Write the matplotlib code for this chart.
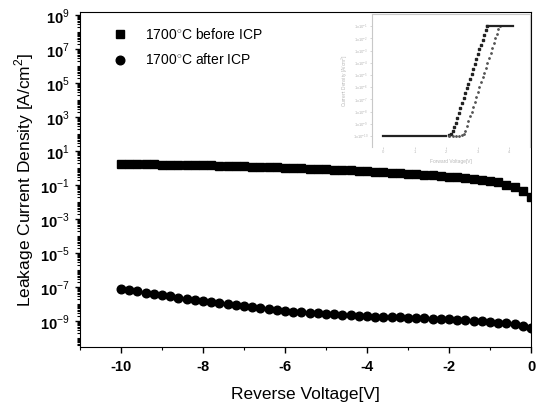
import numpy as np
import matplotlib
matplotlib.use("Agg")
import matplotlib.pyplot as plt
from matplotlib.ticker import FixedLocator, LogLocator, MultipleLocator, FuncFormatter, NullFormatter

plt.rcParams['font.family'] = ['Liberation Sans', 'DejaVu Sans']
plt.rcParams['mathtext.fontset'] = 'custom'
plt.rcParams['mathtext.rm'] = 'Liberation Sans'
plt.rcParams['mathtext.bf'] = 'Liberation Sans:bold'
plt.rcParams['axes.unicode_minus'] = False

# reverse sweep, 0.2 V steps
voltage = np.linspace(-10, 0, 51)

# log10 of leakage current density [A/cm^2]
log_j_before = [0.27, 0.26, 0.26, 0.25, 0.24, 0.23, 0.23, 0.22, 0.21, 0.20,
                0.19, 0.18, 0.17, 0.15, 0.14, 0.12, 0.11, 0.09, 0.08, 0.06,
                0.04, 0.02, 0.00, -0.02, -0.04, -0.06, -0.08, -0.10, -0.12, -0.15,
                -0.17, -0.20, -0.22, -0.25, -0.27, -0.30, -0.33, -0.37, -0.40, -0.44,
                -0.48, -0.52, -0.57, -0.62, -0.67, -0.72, -0.82, -0.95, -1.12, -1.35,
                -1.65]
log_j_after = [-7.06, -7.14, -7.22, -7.30, -7.38, -7.45, -7.52, -7.59, -7.67, -7.74,
               -7.81, -7.87, -7.93, -7.99, -8.04, -8.10, -8.16, -8.22, -8.28, -8.34,
               -8.40, -8.43, -8.46, -8.49, -8.52, -8.55, -8.58, -8.61, -8.64, -8.66,
               -8.69, -8.71, -8.73, -8.75, -8.76, -8.78, -8.80, -8.82, -8.84, -8.86,
               -8.88, -8.91, -8.93, -8.96, -8.99, -9.02, -9.06, -9.10, -9.16, -9.24,
               -9.37]

labels = ['1700$^{\\circ}$C before ICP', '1700$^{\\circ}$C after ICP']

# inset: forward I-V (faint, reproduced from the figure)
inset_floor_v = [0.0, 0.1, 0.2, 0.3, 0.4, 0.5, 0.6, 0.7, 0.8, 0.9, 1.0,
                 1.1, 1.2, 1.3, 1.4, 1.5, 1.6, 1.7, 1.8, 1.9, 2.0]
inset_floor_log = [-10.0] * len(inset_floor_v)
inset_a_v = [2.10, 2.15, 2.20, 2.25, 2.30, 2.35, 2.40, 2.45, 2.50, 2.55, 2.60, 2.65,
             2.70, 2.75, 2.80, 2.85, 2.90, 2.95, 3.00, 3.05, 3.10, 3.15, 3.20, 3.25, 3.30]
inset_a_log = [-9.95, -9.8, -9.55, -9.25, -8.9, -8.5, -8.1, -7.7, -7.3, -6.9, -6.5, -6.1,
               -5.7, -5.3, -4.9, -4.5, -4.1, -3.7, -3.3, -2.9, -2.5, -2.1, -1.7, -1.3, -1.0]
inset_b_v = [2.10, 2.20, 2.30, 2.40, 2.50, 2.55, 2.60, 2.65, 2.70, 2.75, 2.80, 2.85, 2.90,
             2.95, 3.00, 3.05, 3.10, 3.15, 3.20, 3.25, 3.30, 3.35, 3.40, 3.45,
             3.50, 3.55, 3.60, 3.65, 3.70]
inset_b_log = [-10.0, -10.0, -10.0, -10.0, -9.95, -9.8, -9.55, -9.2, -8.8, -8.4, -8.0,
               -7.6, -7.2, -6.8, -6.4, -6.0, -5.6, -5.2, -4.8, -4.4, -4.0, -3.6, -3.2,
               -2.8, -2.4, -2.0, -1.6, -1.25, -1.0]
inset_top_v = [3.3, 3.4, 3.5, 3.6, 3.7, 3.8, 3.9, 4.0, 4.1]
inset_top_log = [-1.0] * len(inset_top_v)
inset_xticks = [0, 1, 2, 3, 4]
inset_ytick_exp = [-1, -2, -3, -4, -5, -6, -7, -8, -9, -10]

fig = plt.figure(figsize=(5.42, 4.09), dpi=100)
ax = fig.add_axes([80/542, 1 - 347/409, 451/542, 335/409])

ax.plot(voltage, 10.0 ** np.array(log_j_before), ls='none', marker='s',
        ms=6.0, color='black', label=labels[0])
ax.plot(voltage, 10.0 ** np.array(log_j_after), ls='none', marker='o',
        ms=6.2, color='black', label=labels[1])

ax.set_yscale('log')
ax.set_xlim(-11, 0)
ax.set_ylim(10 ** -10.5, 10 ** 9.2)

ax.xaxis.set_major_locator(MultipleLocator(2))
ax.xaxis.set_minor_locator(MultipleLocator(1))
ax.yaxis.set_major_locator(FixedLocator([10.0 ** k for k in range(-9, 10, 2)]))
ax.yaxis.set_minor_locator(LogLocator(base=10, subs=np.arange(1, 10), numticks=100))
ax.yaxis.set_minor_formatter(NullFormatter())


def fmt_y(val, pos):
    k = int(round(np.log10(val)))
    return r'$\mathbf{10}^{%d}$' % k


ax.yaxis.set_major_formatter(FuncFormatter(fmt_y))
ax.xaxis.set_major_formatter(FuncFormatter(lambda v, p: '%d' % v))

ax.tick_params(axis='both', which='major', direction='out', labelsize=10.5, width=1.0)
ax.tick_params(axis='x', which='major', length=4.5, pad=5)
ax.tick_params(axis='x', which='minor', length=2.5, width=0.8)
ax.tick_params(axis='y', which='major', length=3.5, pad=4)
ax.tick_params(axis='y', which='minor', length=2.0, width=0.8)
for lab in ax.get_xticklabels():
    lab.set_fontweight('bold')

ax.set_xlabel('Reverse Voltage[V]', fontsize=12.5, labelpad=9)
ax.set_ylabel('Leakage Current Density [A/cm$^2$]', fontsize=12.5, labelpad=3)

ax.legend(loc='upper left', bbox_to_anchor=(0.058, 0.955), frameon=False,
          fontsize=10, borderpad=0, borderaxespad=0, labelspacing=0.75,
          handletextpad=0.8)

# faint inset
ins = fig.add_axes([372/542, 1 - 147/409, 158/542, 133/409])
ins.set_facecolor('none')
faint = '#b8b8b8'
ins.plot(inset_floor_v, 10.0 ** np.array(inset_floor_log), color='#222222', lw=1.6)
ins.plot(inset_a_v, 10.0 ** np.array(inset_a_log), ls='none', marker='s', ms=1.6,
         color='#222222')
ins.plot(inset_b_v, 10.0 ** np.array(inset_b_log), ls='none', marker='o', ms=1.0,
         color='#555555')
ins.plot(inset_top_v, 10.0 ** np.array(inset_top_log), color='#222222', lw=1.6)
ins.set_yscale('log')
ins.set_xlim(-0.35, 4.65)
ins.set_ylim(10 ** -10.9, 1)
ins.set_xticks(inset_xticks)
ins.set_xticklabels([str(t) for t in inset_xticks])
ins.set_yticks([10.0 ** e for e in inset_ytick_exp])
ins.set_yticklabels(['1x10$^{%d}$' % e for e in inset_ytick_exp])
ins.yaxis.set_minor_formatter(NullFormatter())
ins.tick_params(which='both', labelsize=3, colors=faint, length=1.5, width=0.4, pad=1)
ins.tick_params(which='minor', length=0)
for side in ['left', 'top', 'right']:
    ins.spines[side].set_color('#c8c8c8')
    ins.spines[side].set_linewidth(0.8)
ins.spines['bottom'].set_visible(False)
ins.set_xlabel('Forward Voltage[V]', fontsize=3.5, color=faint, labelpad=3)
ins.set_ylabel('Current Density [A/cm$^2$]', fontsize=3.5, color=faint, labelpad=2)

fig.savefig('out.png', dpi=100)
